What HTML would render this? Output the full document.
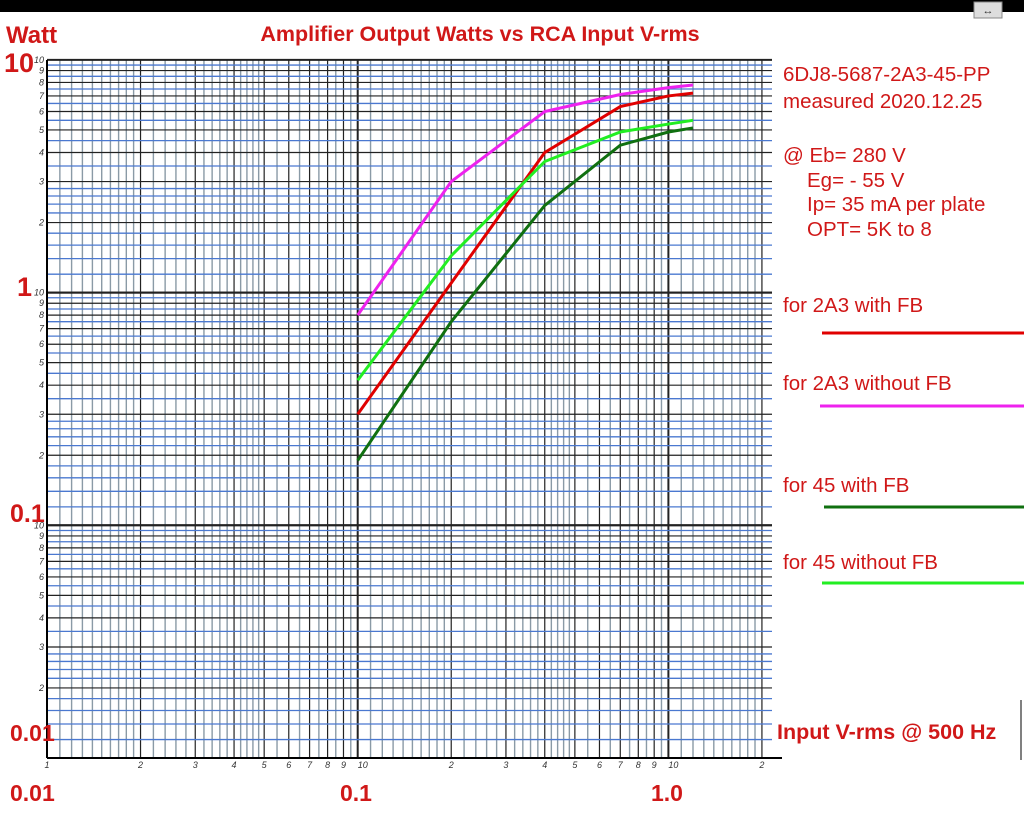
<!DOCTYPE html>
<html><head><meta charset="utf-8"><style>
body{margin:0;background:#fff;width:1024px;height:819px;overflow:hidden;font-family:"Liberation Sans",sans-serif}
</style></head><body>
<svg width="1024" height="819" xmlns="http://www.w3.org/2000/svg">
<rect x="0" y="0" width="1024" height="12" fill="#000"/>
<rect x="974" y="2" width="28" height="16" fill="#ddd" stroke="#888"/>
<text x="988" y="14" font-size="11" text-anchor="middle" fill="#333">↔</text>
<g id="grid"></g>
<g id="ticks"></g>
<g id="series"></g>
<g fill="#d01818" font-weight="bold">
<text x="6" y="43" font-size="24">Watt</text>
<text x="480" y="41" font-size="21.5" text-anchor="middle">Amplifier Output Watts vs RCA  Input V-rms</text>
<text x="4" y="72" font-size="27">10</text>
<text x="17" y="296" font-size="27">1</text>
<text x="10" y="522" font-size="25">0.1</text>
<text x="10" y="741" font-size="23">0.01</text>
<text x="10" y="801" font-size="23">0.01</text>
<text x="340" y="801" font-size="23">0.1</text>
<text x="651" y="801" font-size="23">1.0</text>
<text x="777" y="739" font-size="21.5">Input V-rms @ 500 Hz</text>
</g>
<g fill="#d01818" font-size="20.5">
<text x="783" y="81">6DJ8-5687-2A3-45-PP</text>
<text x="783" y="108">measured 2020.12.25</text>
<text x="783" y="162">@ Eb= 280 V</text>
<text x="807" y="187">Eg= - 55 V</text>
<text x="807" y="211">Ip= 35 mA per plate</text>
<text x="807" y="236">OPT= 5K to 8</text>
</g>
<g font-size="20.5" fill="#d01818">
<text x="783" y="312">for 2A3 with FB</text>
<line x1="822" y1="333" x2="1024" y2="333" stroke="#e00000" stroke-width="3"/>
<text x="783" y="390">for 2A3 without FB</text>
<line x1="820" y1="406" x2="1024" y2="406" stroke="#ee22ee" stroke-width="3"/>
<text x="783" y="492">for 45 with FB</text>
<line x1="824" y1="507" x2="1024" y2="507" stroke="#107010" stroke-width="3"/>
<text x="783" y="569">for 45 without FB</text>
<line x1="822" y1="583" x2="1024" y2="583" stroke="#22ee22" stroke-width="3"/>
</g>
<line x1="1021" y1="700" x2="1021" y2="760" stroke="#000"/>
</svg>
<script>
const xValues=[0.1,0.2,0.4,0.7,1.0,1.2];
const red2a3FB=[0.30,1.1,4.0,6.3,7.0,7.2];
const magenta2a3NoFB=[0.80,3.0,6.0,7.1,7.6,7.8];
const green45NoFB=[0.42,1.44,3.66,4.9,5.3,5.5];
const dark45FB=[0.19,0.75,2.37,4.3,4.9,5.1];
const yTickLabels=["2","3","4","5","6","7","8","9","10"];
const xTickLabels=["1","2","3","4","5","6","7","8","9","10"];
const NS="http://www.w3.org/2000/svg";
const X0=47,XD=310.7,Y0=758,YD=232.7;
const xs=v=>X0+(Math.log10(v)+2)*XD;
const ys=v=>Y0-(Math.log10(v)+2)*YD;
const gx=772, gy=60;
function mk(t,a,p){const e=document.createElementNS(NS,t);for(const k in a)e.setAttribute(k,a[k]);p.appendChild(e);return e;}
const grid=document.getElementById('grid');
const vMinors=[1.1,1.2,1.3,1.4,1.5,1.6,1.7,1.8,1.9,2.2,2.4,2.6,2.8,3.2,3.4,3.6,3.8,4.2,4.4,4.6,4.8,5.5,6.5,7.5,8.5,9.5];
const hMinors=[1.2,1.4,1.6,1.8,2.2,2.4,2.6,2.8,3.5,4.5,5.5,6.5,7.5,8.5,9.5];
const majors=[1,2,3,4,5,6,7,8,9];
for(let d=-2;d<=0;d++){
 vMinors.forEach(m=>{const x=xs(m*Math.pow(10,d));if(x<=gx){const l=mk('line',{x1:x,y1:gy,x2:x,y2:Y0,stroke:'#8a9aa6','stroke-width':1.4},grid);}});
 majors.forEach(m=>{const x=xs(m*Math.pow(10,d));if(x<=gx){const l=mk('line',{x1:x,y1:gy,x2:x,y2:Y0,stroke:'#222','stroke-width':m==1?2:1.2},grid);}});
}
for(let d=-2;d<=0;d++){
 hMinors.forEach(m=>{const y=ys(m*Math.pow(10,d));const l=mk('line',{x1:X0,y1:y,x2:gx,y2:y,stroke:'#4a78d0','stroke-width':1.3},grid);});
 majors.concat([10]).forEach(m=>{const y=ys(m*Math.pow(10,d));const l=mk('line',{x1:X0,y1:y,x2:gx,y2:y,stroke:'#222','stroke-width':(m==1||m==10)?2:1.2},grid);});
}
const ax=mk('line',{x1:X0,y1:Y0,x2:782,y2:Y0,stroke:'#000','stroke-width':2},grid);

const ay=mk('line',{x1:X0,y1:gy,x2:X0,y2:Y0,stroke:'#000','stroke-width':2},grid);

const ticks=document.getElementById('ticks');
for(let d=-2;d<=0;d++){
 yTickLabels.forEach((s,i)=>{const v=(i+2)*Math.pow(10,d);const t=mk('text',{x:44,y:ys(v)+3,'font-size':9,'font-style':'italic','text-anchor':'end',fill:'#333'},ticks);t.textContent=s;});
 xTickLabels.forEach((s,i)=>{if(i==0&&d>-2)return;const v=(i+1)*Math.pow(10,d);const x=xs(v);if(x>gx)return;const t=mk('text',{x:x+(i==9?5:0),y:768,'font-size':9,'font-style':'italic','text-anchor':'middle',fill:'#333'},ticks);t.textContent=s;});
}
const ser=document.getElementById('series');
[[red2a3FB,'#e00000','line-2a3-fb'],[magenta2a3NoFB,'#ee22ee','line-2a3-nofb'],[green45NoFB,'#22ee22','line-45-nofb'],[dark45FB,'#107010','line-45-fb']].forEach(([arr,c,n])=>{
 const p=mk('polyline',{points:arr.map((v,i)=>xs(xValues[i])+','+ys(v)).join(' '),fill:'none',stroke:c,'stroke-width':3},ser);
 
 
});
</script>
</body></html>
